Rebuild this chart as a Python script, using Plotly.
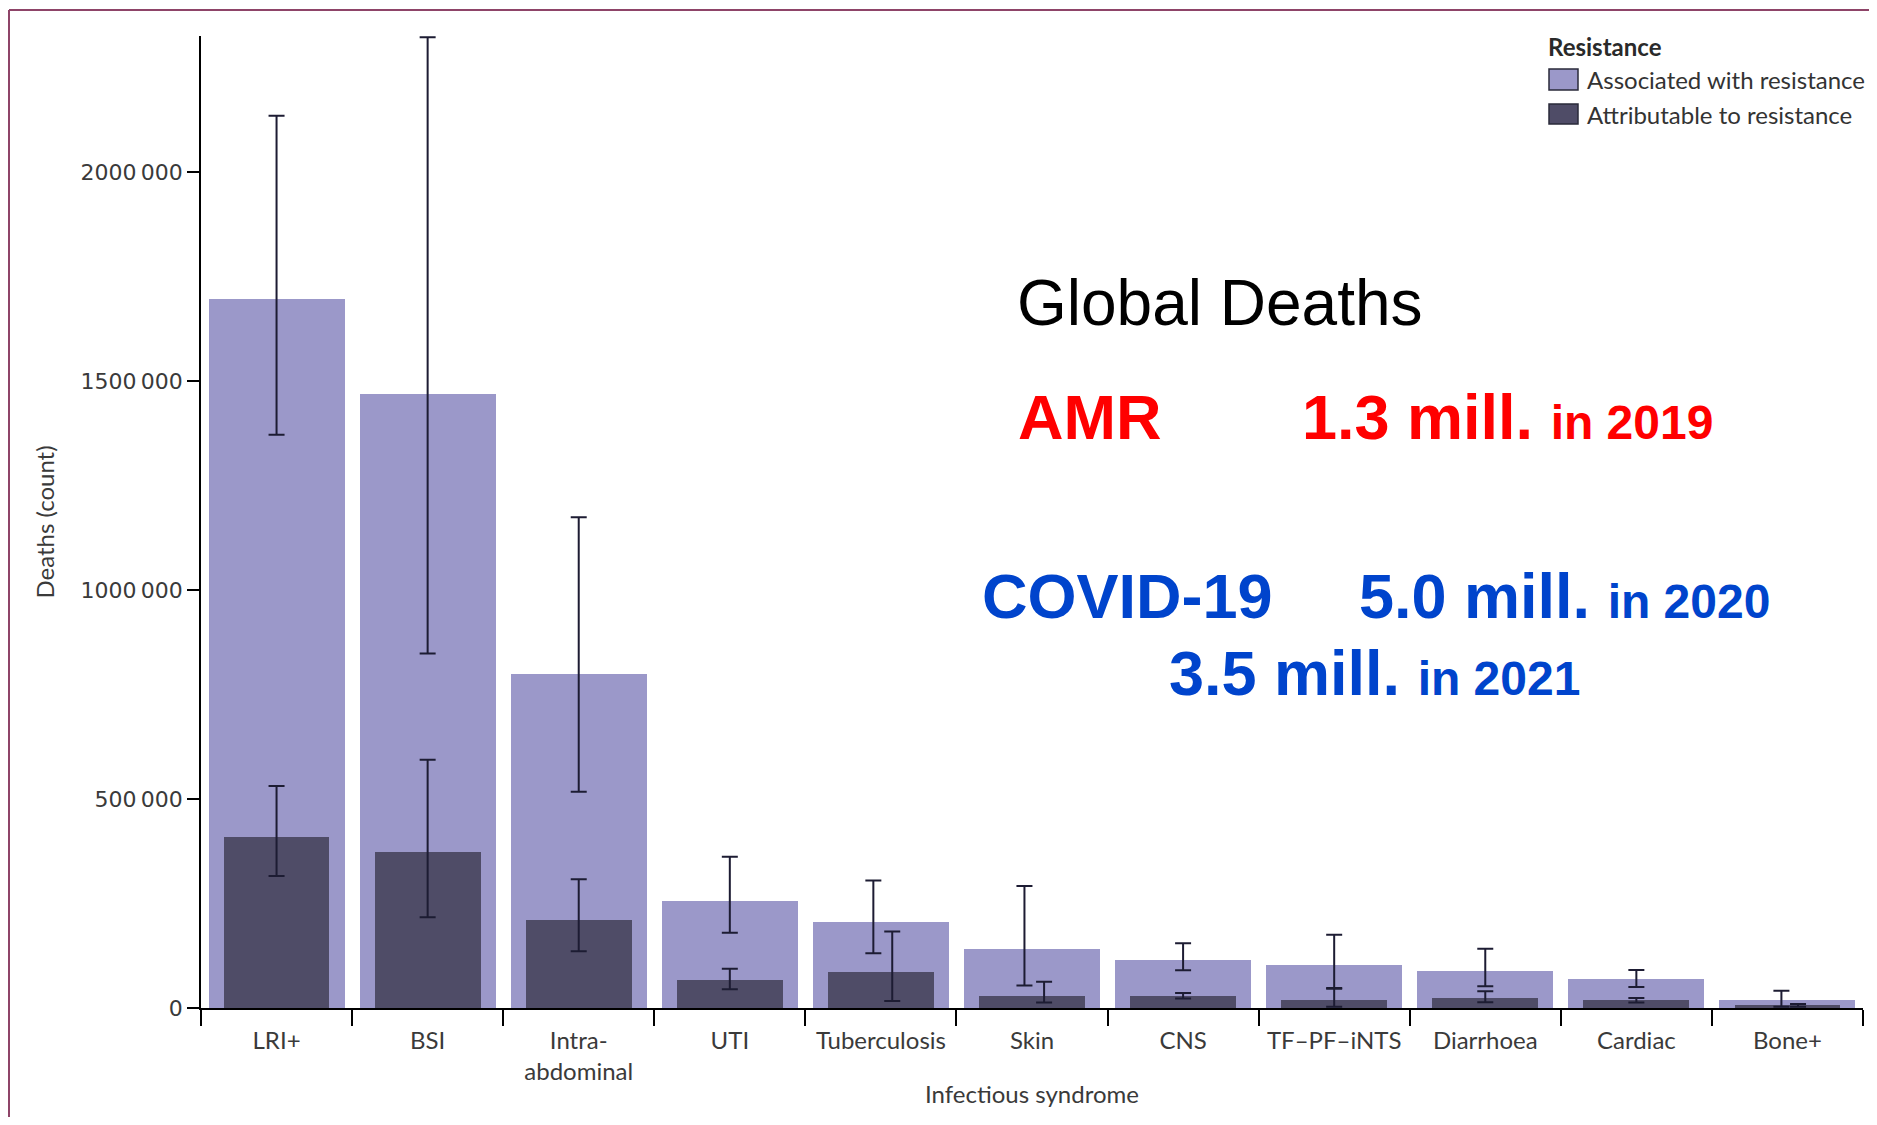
import plotly.graph_objects as go

# ---------------- data ----------------
categories = ["LRI+", "BSI", "Intra-<br>abdominal", "UTI", "Tuberculosis", "Skin",
              "CNS", "TF–PF–iNTS", "Diarrhoea", "Cardiac", "Bone+"]

associated = [1697000, 1469000, 800000, 255000, 206000, 142000, 115000, 102000, 88000, 70000, 20000]
associated_low = [1371000, 848000, 517000, 180000, 131000, 54000, 90000, 48000, 52000, 50000, 3000]
associated_high = [2134000, 2322000, 1174000, 362000, 305000, 292000, 155000, 175000, 142000, 91000, 41000]

attributable = [409000, 373000, 210000, 66000, 87000, 28000, 28000, 20000, 25000, 20000, 6000]
attributable_low = [316000, 217000, 136000, 45000, 17000, 13000, 23000, 3000, 14000, 13000, 3000]
attributable_high = [531000, 594000, 308000, 94000, 183000, 63000, 36000, 46000, 40000, 24000, 9500]

y_tick_values = [0, 500000, 1000000, 1500000, 2000000]
y_tick_labels = ["0", "500\u2009000", "1000\u2009000", "1500\u2009000", "2000\u2009000"]

# ---------------- style ----------------
C_ASSOC = "#9b98c9"
C_ATTR = "#4f4c67"
C_ERR = "#1d1c33"
C_TEXT = "#3a3a3a"
FONT = "Lato"
FS = 24
# small horizontal shifts of some error bars (fraction of a category)
assoc_err_shift = [0, 0, 0, 0, -0.05, -0.05, 0, 0, 0, 0, -0.04]
attr_err_shift = [0, 0, 0, 0, 0.075, 0.08, 0, 0, 0, 0, 0.07]

# page offset introduced by the default body margin
OFF = 8
W, H = 1877 - 2 * OFF, 1125 - 2 * OFF
ML, MT = 201 - OFF, 36 - OFF
MR = W - (1863 - OFF)
MB = H - (1008 - OFF)
PW, PH = W - ML - MR, H - MT - MB


def px(xpage):
    return (xpage - OFF - ML) / PW


def py(ypage):
    return (H - MB - (ypage - OFF)) / PH


idx = list(range(len(categories)))

fig = go.Figure()
fig.add_trace(go.Bar(x=categories, y=associated, width=0.9, marker_color=C_ASSOC,
                     marker_line_width=0, name="Associated with resistance", showlegend=False))
fig.add_trace(go.Bar(x=categories, y=attributable, width=0.7, marker_color=C_ATTR,
                     marker_line_width=0, name="Attributable to resistance", showlegend=False))

fig.add_trace(go.Scatter(
    x=[i + s for i, s in zip(idx, assoc_err_shift)], y=associated, xaxis="x2",
    mode="markers", marker=dict(size=1, color="rgba(0,0,0,0)"), showlegend=False,
    error_y=dict(type="data", symmetric=False,
                 array=[h - v for h, v in zip(associated_high, associated)],
                 arrayminus=[v - l for v, l in zip(associated, associated_low)],
                 color=C_ERR, thickness=2, width=8)))
fig.add_trace(go.Scatter(
    x=[i + s for i, s in zip(idx, attr_err_shift)], y=attributable, xaxis="x2",
    mode="markers", marker=dict(size=1, color="rgba(0,0,0,0)"), showlegend=False,
    error_y=dict(type="data", symmetric=False,
                 array=[h - v for h, v in zip(attributable_high, attributable)],
                 arrayminus=[v - l for v, l in zip(attributable, attributable_low)],
                 color=C_ERR, thickness=2, width=8)))

# ---------------- manual legend + frame ----------------
shapes = [
    dict(type="rect", xref="paper", yref="paper", x0=px(1549), x1=px(1578), y0=py(90), y1=py(69),
         fillcolor=C_ASSOC, line=dict(color="#2a2a3a", width=1.5)),
    dict(type="rect", xref="paper", yref="paper", x0=px(1549), x1=px(1578), y0=py(124), y1=py(104),
         fillcolor=C_ATTR, line=dict(color="#2a2a3a", width=1.5)),
    dict(type="line", xref="paper", yref="paper", x0=px(9), x1=px(1900), y0=py(10), y1=py(10),
         line=dict(color="#8e4468", width=2)),
    dict(type="line", xref="paper", yref="paper", x0=px(9), x1=px(9), y0=py(10), y1=py(1140),
         line=dict(color="#8e4468", width=2)),
]

annotations = [
    dict(text="<b>Resistance</b>", x=px(1546), y=py(46), xanchor="left", yanchor="middle",
         font=dict(family=FONT, size=FS, color="#2a2a2a")),
    dict(text="Associated with resistance", x=px(1585), y=py(79), xanchor="left", yanchor="middle",
         font=dict(family=FONT, size=FS, color="#333333")),
    dict(text="Attributable to resistance", x=px(1585), y=py(114), xanchor="left", yanchor="middle",
         font=dict(family=FONT, size=FS, color="#333333")),
]

BIG = 63
SMALL = 48
ARIAL = "Liberation Sans, Arial"


def base(ypage, fs=BIG):
    # bottom-anchor y so that the text baseline sits at ypage
    return py(ypage + 0.212 * fs + 1)


annotations += [
    dict(text="Global Deaths", x=px(1015), y=base(326, 64), xanchor="left", yanchor="bottom",
         font=dict(family=ARIAL, size=64, color="black")),
    dict(text="<b>AMR</b>", x=px(1016), y=base(440), xanchor="left", yanchor="bottom",
         font=dict(family=ARIAL, size=BIG, color="#ff0000")),
    dict(text=f"<b>1.3 mill. <span style='font-size:{SMALL}px'>in 2019</span></b>", x=px(1300),
         y=base(440), xanchor="left", yanchor="bottom",
         font=dict(family=ARIAL, size=BIG, color="#ff0000")),
    dict(text="<b>COVID-19</b>", x=px(980), y=base(619), xanchor="left", yanchor="bottom",
         font=dict(family=ARIAL, size=BIG, color="#0044cc")),
    dict(text=f"<b>5.0 mill. <span style='font-size:{SMALL}px'>in 2020</span></b>", x=px(1357),
         y=base(619), xanchor="left", yanchor="bottom",
         font=dict(family=ARIAL, size=BIG, color="#0044cc")),
    dict(text=f"<b>3.5 mill. <span style='font-size:{SMALL}px'>in 2021</span></b>", x=px(1167),
         y=base(696), xanchor="left", yanchor="bottom",
         font=dict(family=ARIAL, size=BIG, color="#0044cc")),
]
for a in annotations:
    a.update(xref="paper", yref="paper", showarrow=False)

fig.update_layout(
    width=W, height=H,
    margin=dict(l=ML, r=MR, t=MT, b=MB, autoexpand=False),
    paper_bgcolor="white", plot_bgcolor="white",
    barmode="overlay", bargap=0,
    font=dict(family=FONT, size=FS, color=C_TEXT),
    shapes=shapes, annotations=annotations,
    xaxis=dict(type="category", range=[-0.5, len(categories) - 0.5], tickson="boundaries",
               ticks="outside", ticklen=16, tickwidth=1.5, tickcolor="black",
               showline=True, linecolor="black", linewidth=2, showgrid=False, zeroline=False,
               ticklabelstandoff=10,
               tickfont=dict(family=FONT, size=FS, color=C_TEXT),
               title=dict(text="Infectious syndrome", standoff=2,
                          font=dict(family=FONT, size=FS, color=C_TEXT))),
    xaxis2=dict(overlaying="x", range=[-0.5, len(categories) - 0.5], visible=False),
    yaxis=dict(range=[0, 2325000], tickvals=y_tick_values, ticktext=y_tick_labels,
               ticks="outside", ticklen=12, tickwidth=1.5, tickcolor="black",
               showline=True, linecolor="black", linewidth=1.5, showgrid=False, zeroline=False,
               tickfont=dict(family="DejaVu Sans", size=22, color=C_TEXT),
               title=dict(text="Deaths (count)", standoff=19,
                          font=dict(family=FONT, size=FS, color=C_TEXT))),
)

fig.write_html("out.html")
